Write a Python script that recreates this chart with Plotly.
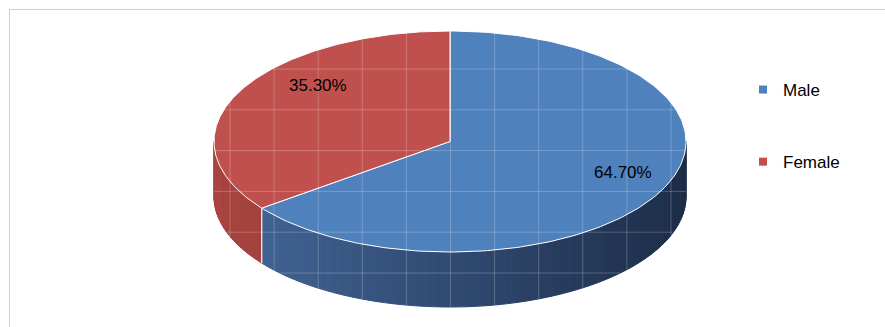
import numpy as np
import plotly.graph_objects as go

# ---- data ----
labels = ["Male", "Female"]
values = [64.7, 35.3]
label_text = ["64.70%", "35.30%"]

# ---- styling ----
top_colors = ["#4F81BD", "#C0504D"]
side_left = [(68, 104, 155), (168, 68, 64)]
side_right = [(29, 45, 72), (120, 42, 40)]
W, H = 885, 327
CX, CY, RX, RY, DEPTH = 450, 141.5, 236, 110.5, 55
FONT = "Liberation Sans, Arial, sans-serif"

fig = go.Figure()


def pt(theta_deg, dy=0.0):
    t = np.radians(theta_deg)
    return CX + RX * np.cos(t), CY - RY * np.sin(t) + dy


def lerp(c0, c1, t):
    return "rgb(%d,%d,%d)" % tuple(round(a + (b - a) * t) for a, b in zip(c0, c1))


total = float(sum(values))
slices = []
start = 90.0
for v in values:
    end = start - v / total * 360.0
    slices.append((start, end))
    start = end

# ---- side walls (front half only), gradient strips ----
for i, (a0, a1) in enumerate(slices):
    lo, hi = a1, a0
    for shift in (0, -360, 360):
        flo, fhi = -180 + shift, 0 + shift
        s_lo, s_hi = max(lo, flo), min(hi, fhi)
        if s_hi <= s_lo:
            continue
        n = max(2, int((s_hi - s_lo) / 1.5))
        edges = np.linspace(s_lo, s_hi, n + 1)
        for k in range(n):
            th = np.linspace(edges[k], edges[k + 1], 4)
            xs_t, ys_t = pt(th)
            xs_b, ys_b = pt(th[::-1], DEPTH)
            xs = np.concatenate([xs_t, xs_b, xs_t[:1]])
            ys = np.concatenate([ys_t, ys_b, ys_t[:1]])
            tt = (xs.mean() - (CX - RX)) / (2 * RX)
            col = lerp(side_left[i], side_right[i], tt)
            fig.add_trace(go.Scatter(x=xs, y=ys, fill="toself", fillcolor=col,
                                     mode="lines", line=dict(color=col, width=1),
                                     hoverinfo="skip", showlegend=False))

# boundary edges on the side wall
for (a0, a1) in slices:
    for a in (a0, a1):
        if np.sin(np.radians(a)) < -0.01:
            x0, y0 = pt(a)
            x1, y1 = pt(a, DEPTH)
            fig.add_trace(go.Scatter(x=[x0, x1], y=[y0, y1], mode="lines",
                                     line=dict(color="rgba(255,255,255,0.8)", width=1),
                                     hoverinfo="skip", showlegend=False))

# ---- top faces ----
for i, (a0, a1) in enumerate(slices):
    th = np.linspace(a0, a1, 200)
    xs, ys = pt(th)
    xs = np.concatenate([[CX], xs, [CX]])
    ys = np.concatenate([[CY], ys, [CY]])
    fig.add_trace(go.Scatter(x=xs, y=ys, fill="toself", fillcolor=top_colors[i],
                             mode="lines", line=dict(color="white", width=1),
                             name=labels[i], hoverinfo="name", showlegend=False))

# ---- faint grid showing through the pie ----
grid_col = "rgba(255,255,255,0.22)"
for gx in np.arange(230, 690, 44.1):
    d = 1 - ((gx - CX) / RX) ** 2
    if d <= 0:
        continue
    h = RY * np.sqrt(d)
    fig.add_trace(go.Scatter(x=[gx, gx], y=[CY - h, CY + DEPTH + h], mode="lines",
                             line=dict(color=grid_col, width=1),
                             hoverinfo="skip", showlegend=False))
for gy in np.arange(69, 310, 40.8):
    if gy < CY - RY:
        continue
    if gy <= CY:
        half = RX * np.sqrt(max(0, 1 - ((gy - CY) / RY) ** 2))
    elif gy <= CY + DEPTH:
        half = RX
    else:
        half = RX * np.sqrt(max(0, 1 - ((gy - CY - DEPTH) / RY) ** 2))
    fig.add_trace(go.Scatter(x=[CX - half, CX + half], y=[gy, gy], mode="lines",
                             line=dict(color=grid_col, width=1),
                             hoverinfo="skip", showlegend=False))

# ---- legend entries ----
for i, lab in enumerate(labels):
    fig.add_trace(go.Scatter(x=[None], y=[None], mode="markers", name=lab,
                             legendgroup=lab,
                             marker=dict(symbol="square", size=8, color=top_colors[i])))

# ---- data labels ----
label_pos = [(623, 172), (318, 85)]
annotations = []
for i, txt in enumerate(label_text):
    annotations.append(dict(x=label_pos[i][0], y=label_pos[i][1], text=txt,
                            showarrow=False, xref="x", yref="y",
                            font=dict(family=FONT, size=17, color="black")))

fig.update_layout(
    width=W, height=H,
    margin=dict(l=0, r=0, t=0, b=0),
    paper_bgcolor="white", plot_bgcolor="white",
    xaxis=dict(range=[0, W], visible=False, fixedrange=True),
    yaxis=dict(range=[H, 0], visible=False, fixedrange=True),
    showlegend=True,
    legend=dict(x=743 / W, y=1 - 72 / H, xanchor="left", yanchor="top",
                font=dict(family=FONT, size=17, color="black"),
                tracegroupgap=47, bgcolor="rgba(0,0,0,0)"),
    annotations=annotations,
    shapes=[
        dict(type="line", xref="x", yref="y", x0=9, x1=W, y0=9.5, y1=9.5,
             line=dict(color="#d0d0d0", width=1)),
        dict(type="line", xref="x", yref="y", x0=9.5, x1=9.5, y0=9, y1=H,
             line=dict(color="#d0d0d0", width=1)),
    ],
    hovermode="closest",
)

fig.write_html("out.html")
